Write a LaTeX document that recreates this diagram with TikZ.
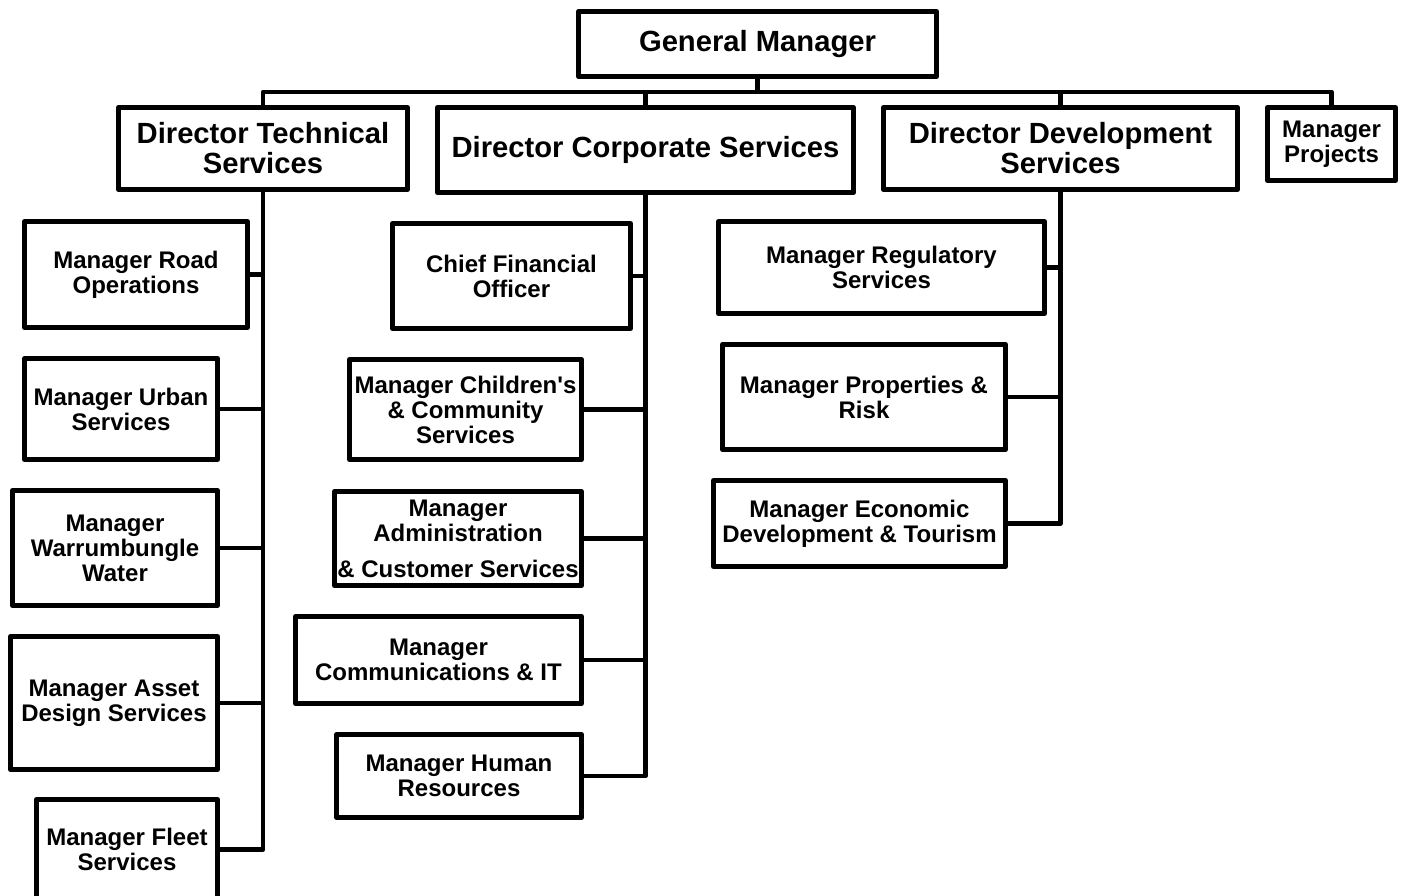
\documentclass[tikz,border=0pt]{standalone}
\usepackage{fontspec}
\setmainfont{Liberation Sans}

\begin{document}
\begin{tikzpicture}[x=1pt,y=-1pt,
  box/.style={draw,line width=5pt,line join=round,inner sep=0pt,align=center,
    font=\bfseries\fontsize{24}{25}\selectfont},
  head/.style={box,font=\bfseries\fontsize{29.2}{30}\selectfont},
  link/.style={line width=4.8pt,line join=round}]
\clip (0,0) rectangle (1406,895);
\fill[white] (0,0) rectangle (1406,895);

% top level
\node[head,minimum width=358,minimum height=65] (gm) at (757.5,44) {General Manager};
\node[head,minimum width=289,minimum height=82] (dts) at (263,148.5) {Director Technical\\Services};
\node[head,minimum width=416,minimum height=85] (dcs) at (645.5,150) {Director Corporate Services};
\node[head,minimum width=354,minimum height=82] (dds) at (1060.5,148.5) {Director Development\\Services};
\node[box,minimum width=128,minimum height=73] (mgp) at (1331.5,144) {Manager\\Projects};
\coordinate (bus) at (757.5,92);

% technical services
\node[box,minimum width=223,minimum height=106] (road) at (136,274.5) {Manager Road\\Operations};
\node[box,minimum width=193,minimum height=101] (urban) at (121,409) {Manager Urban\\Services};
\node[box,minimum width=205,minimum height=115] (water) at (115,548) {Manager\\Warrumbungle\\Water};
\node[box,minimum width=207,minimum height=133] (asset) at (114,703) {Manager Asset\\Design Services};
\node[box,minimum width=181,minimum height=100] (fleet) at (127,849.5) {Manager Fleet\\Services};

% corporate services
\node[box,minimum width=238,minimum height=105] (cfo) at (511.5,276) {Chief Financial\\Officer};
\node[box,minimum width=232,minimum height=100] (child) at (465.5,409.5) {Manager Children\textquotesingle s\\\& Community\\Services};
\node[box,minimum width=247,minimum height=94] (admin) at (458,538.5) {Manager\\Administration\\[11pt]\& Customer Services};
\node[box,minimum width=286,minimum height=87] (comms) at (438.5,660) {Manager\\Communications \& IT};
\node[box,minimum width=245,minimum height=83] (hr) at (459,776) {Manager Human\\Resources};

% development services
\node[box,minimum width=326,minimum height=92] (reg) at (881.5,267.5) {Manager Regulatory\\Services};
\node[box,minimum width=283,minimum height=105] (prop) at (864,397) {Manager Properties \&\\Risk};
\node[box,minimum width=292,minimum height=86] (econ) at (859.5,523.5) {Manager Economic\\Development \& Tourism};

% connectors
\draw[link] (gm) -- (bus);
\foreach \d in {dts,dcs,dds,mgp}
  \draw[link] (bus) -| (\d.north);
\draw[link] (dts.south) |- (fleet.east);
\foreach \m in {road,urban,water,asset}
  \draw[link] (\m.east) -- (\m.east -| dts.south);
\draw[link] (dcs.south) |- (hr.east);
\foreach \m in {cfo,child,admin,comms}
  \draw[link] (\m.east) -- (\m.east -| dcs.south);
\draw[link] (dds.south) |- (econ.east);
\foreach \m in {reg,prop}
  \draw[link] (\m.east) -- (\m.east -| dds.south);
\end{tikzpicture}
\end{document}
